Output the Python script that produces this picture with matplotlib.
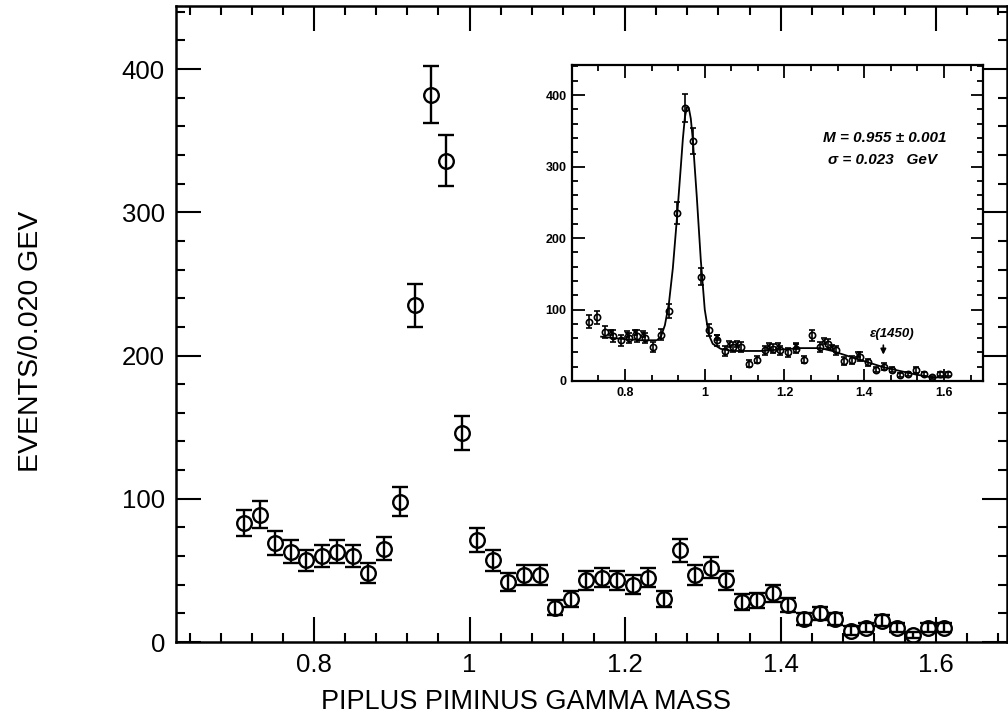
import matplotlib
matplotlib.use("Agg")
import matplotlib.pyplot as plt
from matplotlib.ticker import MultipleLocator, FixedLocator

# main histogram: pi+ pi- gamma mass, 0.020 GeV bins
mass = [0.71, 0.73, 0.75, 0.77, 0.79, 0.81, 0.83, 0.85, 0.87, 0.89,
        0.91, 0.93, 0.95, 0.97, 0.99, 1.01, 1.03, 1.05, 1.07, 1.09,
        1.11, 1.13, 1.15, 1.17, 1.19, 1.21, 1.23, 1.25, 1.27, 1.29,
        1.31, 1.33, 1.35, 1.37, 1.39, 1.41, 1.43, 1.45, 1.47, 1.49,
        1.51, 1.53, 1.55, 1.57, 1.59, 1.61]
events = [83, 89, 69, 63, 57, 60, 63, 60, 48, 65,
          98, 235, 382, 336, 146, 71, 57, 42, 47, 47,
          24, 30, 43, 45, 43, 40, 45, 30, 64, 47,
          52, 43, 28, 29, 34, 26, 16, 20, 16, 8,
          10, 15, 10, 5, 10, 10]
errors = [9, 9.5, 8.5, 8, 7.5, 7.5, 8, 7.5, 7, 8,
          10, 15, 20, 18, 12, 8.5, 7.5, 6.5, 7, 7,
          5, 5.5, 6.5, 6.5, 6.5, 6.5, 6.5, 5.5, 8, 7,
          7, 6.5, 5.5, 5.5, 6, 5, 4, 4.5, 4, 3,
          3, 4, 3, 2, 3, 3]

# inset: second sample (crosses) and fitted curve
cross_mass = [0.765, 0.805, 0.825, 0.845, 1.03, 1.06, 1.08, 1.16, 1.185, 1.23, 1.30, 1.32, 1.385]
cross_events = [68, 66, 68, 66, 61, 52, 52, 49, 49, 49, 56, 47, 37]
fit_mass = [0.74, 0.79, 0.84, 0.88, 0.89, 0.90, 0.91, 0.92, 0.93, 0.94,
            0.945, 0.95, 0.955, 0.96, 0.965, 0.97, 0.98, 0.99, 1.00, 1.01,
            1.02, 1.04, 1.07, 1.14, 1.24, 1.29, 1.32, 1.37, 1.41, 1.45,
            1.49, 1.53, 1.57, 1.61]
fit_events = [62, 59, 57, 57, 62, 78, 108, 158, 226, 300,
              338, 368, 383, 382, 367, 338, 258, 170, 100, 65,
              52, 45, 42, 42, 46, 46, 42, 33, 26, 19,
              14, 9, 5, 5]

plt.rcParams['font.family'] = ['Liberation Sans', 'DejaVu Sans']

fig = plt.figure(figsize=(10.08, 7.16), dpi=100)
ax = fig.add_axes([176 / 1008, 74 / 716, 831 / 1008, 636 / 716])

ax.errorbar(mass, events, yerr=errors, fmt='o', ms=10.5, mfc='none', mec='black',
            mew=1.7, ecolor='black', elinewidth=1.7, capsize=6, capthick=1.7)

ax.set_xlim(0.6225, 1.691)
ax.set_ylim(0, 444)
ax.xaxis.set_major_locator(FixedLocator([0.8, 1.0, 1.2, 1.4, 1.6]))
ax.xaxis.set_minor_locator(MultipleLocator(0.04))
ax.yaxis.set_major_locator(MultipleLocator(100))
ax.yaxis.set_minor_locator(MultipleLocator(20))
ax.set_xticklabels(['0.8', '1', '1.2', '1.4', '1.6'])
ax.tick_params(which='both', direction='in', top=True, right=True, width=1.5,
               labelsize=18.5, colors='black')
ax.tick_params(which='major', length=18, pad=8)
ax.tick_params(which='minor', length=6.5)
for sp in ax.spines.values():
    sp.set_linewidth(1.8)

fig.text(526 / 1008, 1 - 702 / 716, 'PIPLUS PIMINUS GAMMA MASS', ha='center', va='center',
         fontsize=19.5)
fig.text(31 / 1008, 1 - 341 / 716, 'EVENTS/0.020 GEV', ha='center', va='center',
         rotation=90, fontsize=20.5)

# inset with the fit
ins = fig.add_axes([572 / 1008, 1 - 381 / 716, 411 / 1008, 316 / 716])
ins.plot(fit_mass, fit_events, color='black', lw=1.3)
ins.errorbar(mass, events, yerr=errors, fmt='o', ms=4.5, mfc='none', mec='black',
             mew=1.2, ecolor='black', elinewidth=1.2, capsize=2.5, capthick=1.2)
ins.errorbar(cross_mass, cross_events, yerr=[4] * len(cross_mass), fmt='x', ms=3.5,
             mew=1.2, color='black', elinewidth=1.0, capsize=2)
ins.set_xlim(0.667, 1.698)
ins.set_ylim(0, 442)
ins.xaxis.set_major_locator(FixedLocator([0.8, 1.0, 1.2, 1.4, 1.6]))
ins.set_xticklabels(['0.8', '1', '1.2', '1.4', '1.6'])
ins.xaxis.set_minor_locator(MultipleLocator(0.2 / 3))
ins.yaxis.set_major_locator(MultipleLocator(100))
ins.yaxis.set_minor_locator(MultipleLocator(20))
ins.tick_params(which='both', direction='in', top=True, right=True, width=1.3,
                labelsize=9)
ins.tick_params(which='major', length=9, pad=4)
ins.tick_params(which='minor', length=4)
for lab in ins.get_xticklabels() + ins.get_yticklabels():
    lab.set_fontweight('bold')
for sp in ins.spines.values():
    sp.set_linewidth(1.6)

ins.text(1.297, 340, 'M = 0.955 ± 0.001', fontsize=11, style='italic', fontweight='bold',
         va='center')
ins.text(1.31, 309, 'σ = 0.023   GeV', fontsize=11, style='italic', fontweight='bold',
         va='center')
ins.annotate('', xy=(1.448, 33), xytext=(1.448, 54),
             arrowprops=dict(arrowstyle='-|>', color='black', lw=1.2, mutation_scale=8))
ins.text(1.47, 62, 'ε(1450)', fontsize=9.5, style='italic', fontweight='bold', ha='center')

fig.savefig('out.png', dpi=100)
